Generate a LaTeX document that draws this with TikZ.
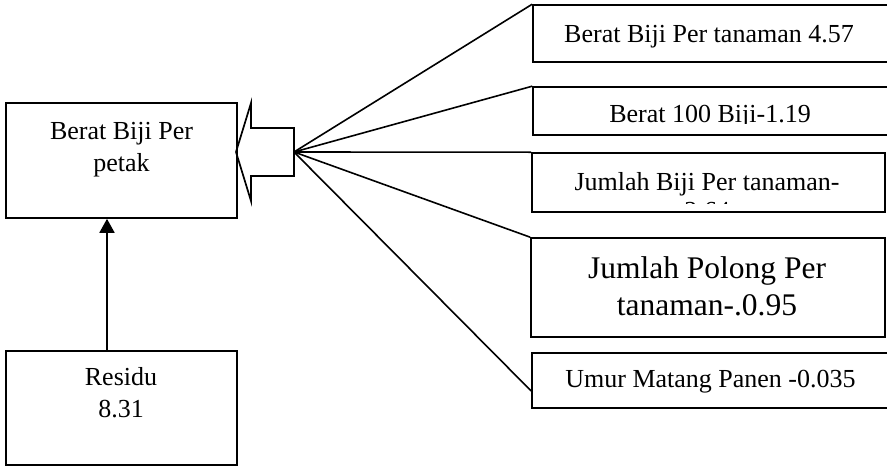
\documentclass[tikz,border=0pt]{standalone}
\usepackage{fontspec}
\setmainfont{Liberation Serif}
\usetikzlibrary{arrows.meta}
\begin{document}
\begin{tikzpicture}[x=1pt,y=-1pt,
  box/.style={draw,line width=1.6pt,rectangle,inner sep=0pt},
  lbl/.style={anchor=base,inner sep=0pt,font=\fontsize{26}{30}\selectfont},
  biglbl/.style={anchor=base,inner sep=0pt,font=\fontsize{31.5}{37}\selectfont},
  fanline/.style={line width=1.6pt},
  blockarrow/.style={draw,line width=1.7pt,line join=miter}]
\useasboundingbox (0,0) rectangle (887,466);
\begin{scope}
\clip (0,0) rectangle (887,466);
% boxes
\node[box,minimum width=231pt,minimum height=115pt] (A) at (121.5,160.5) {};
\node[box,minimum width=231pt,minimum height=114pt] (R) at (121.5,408) {};
\node[box,minimum width=359pt,minimum height=57pt] (T1) at (712.5,33.5) {};
\node[box,minimum width=359pt,minimum height=48pt] (T2) at (712.5,111) {};
\node[box,minimum width=353pt,minimum height=59pt] (T3) at (708.5,182.5) {};
\node[box,minimum width=354pt,minimum height=99pt] (T4) at (708,287.5) {};
\node[box,minimum width=360pt,minimum height=55pt] (T5) at (712,380.5) {};
% texts
\node[lbl] (a1) at (121.5,139) {Berat Biji Per};
\node[lbl] (a2) at (121.5,171) {petak};
\node[lbl] (r1) at (121,385) {Residu};
\node[lbl] (r2) at (121,417) {8.31};
\node[lbl] (t1) at (709,42) {Berat Biji Per tanaman 4.57};
\begin{scope}
\clip (533,87) rectangle (887,123.5);
\node[lbl] (t2) at (710,122) {Berat 100 Biji-1.19};
\end{scope}
\begin{scope}
\clip (532,153) rectangle (885,203.5);
\node[lbl] (t3a) at (707,190) {Jumlah Biji Per tanaman-};
\node[lbl] (t3b) at (707,219) {2.64};
\end{scope}
\node[biglbl] (t4a) at (707,278) {Jumlah Polong Per};
\node[biglbl] (t4b) at (707,315) {tanaman-.0.95};
\node[lbl] (t5) at (710.5,387) {Umur Matang Panen -0.035};
% block arrow
\path[blockarrow] (236,152) -- (251,103) -- (251,128) -- (294,128) -- (294,176) -- (251,176) -- (251,201) -- cycle;
\coordinate (fan) at (294,152);
% fan lines
\draw[fanline] (fan) -- (T1.north west);
\draw[fanline] (fan) -- (T2.north west);
\draw[fanline] (fan) -- (T3.north west);
\draw[fanline] (fan) -- (T4.north west);
\draw[fanline] (fan) -- ([yshift=-10.5pt]T5.west);
% residual arrow
\draw[line width=1.8pt,-{Triangle[width=15pt,length=14pt]}] ([xshift=-14.5pt]R.north) -- ([xshift=-14.5pt]A.south);
\end{scope}
\end{tikzpicture}
\end{document}
